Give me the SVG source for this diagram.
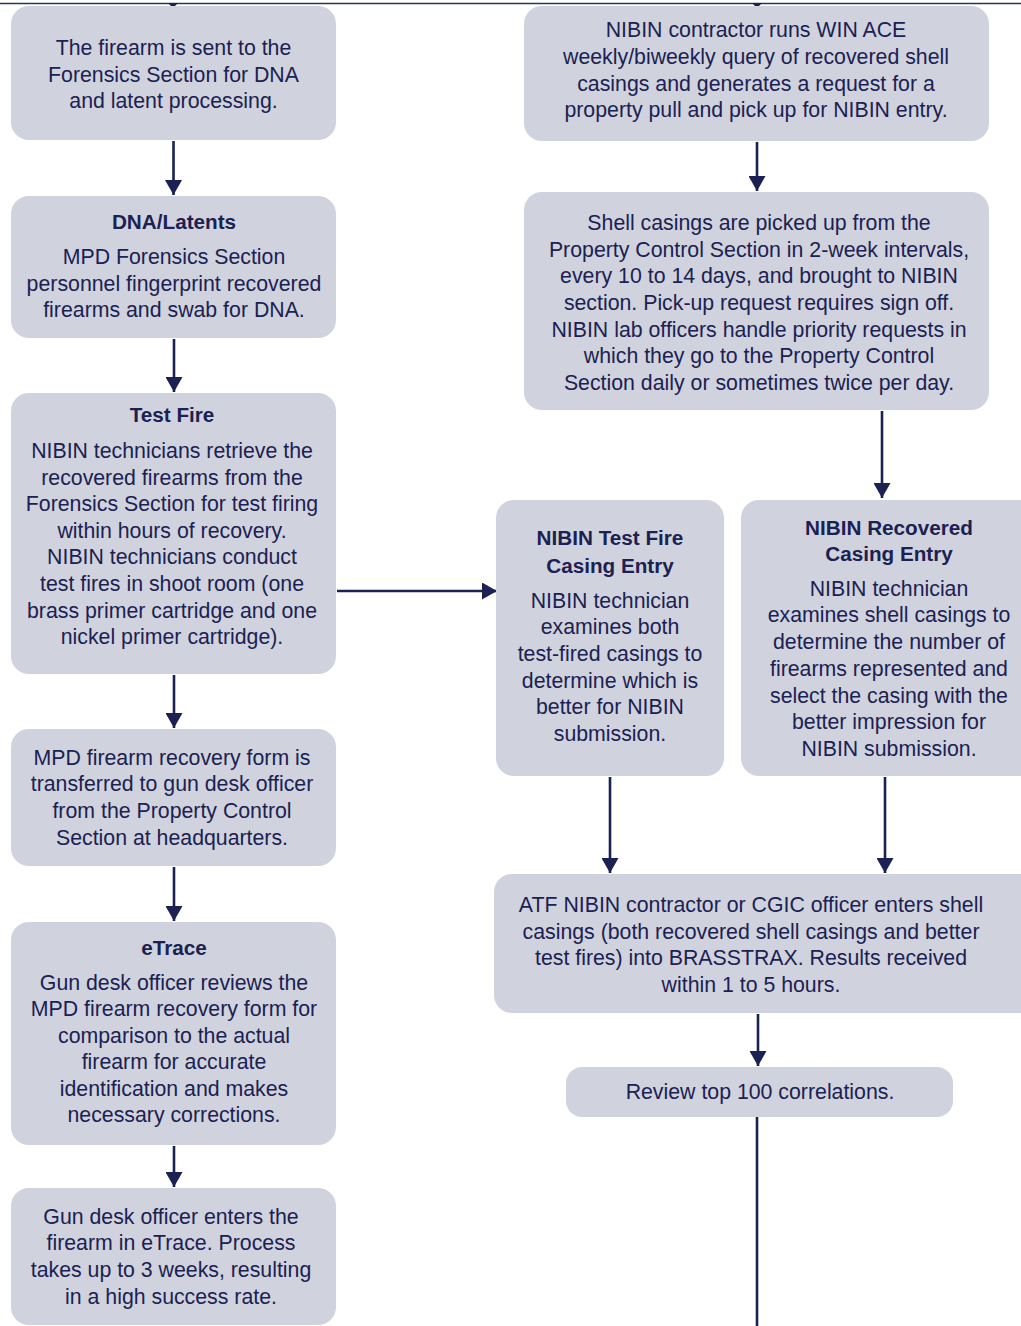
<svg xmlns="http://www.w3.org/2000/svg" width="1021" height="1326" viewBox="0 0 1021 1326">
<defs>
<style>
.box{fill:#D0D3DD;}
.t{font-family:"Liberation Sans",Arial,sans-serif;font-size:21.3px;fill:#1B2152;text-anchor:middle;}
.b{font-family:"Liberation Sans",Arial,sans-serif;font-size:20.7px;font-weight:bold;fill:#1B2152;text-anchor:middle;}
.c{stroke:#1B2152;stroke-width:2.6;fill:none;}
</style>
<marker id="ah" markerWidth="16" markerHeight="17" refX="15" refY="8.5" orient="auto" markerUnits="userSpaceOnUse">
<path d="M0,0 L15,8.5 L0,17 Z" fill="#1B2152"/>
</marker>
</defs>
<rect width="1021" height="1326" fill="#FFFFFF"/>

<g id="connectors">
<line x1="0" y1="3.5" x2="1021" y2="3.5" stroke="#2A3060" stroke-width="1.5"/>
<polygon points="168,3 178,3 173,8" fill="#1B2152"/>
<polygon points="752,3 762,3 757,8" fill="#1B2152"/>
<line class="c" x1="173.5" y1="141" x2="173.5" y2="195" marker-end="url(#ah)"/>
<line class="c" x1="174" y1="339" x2="174" y2="392" marker-end="url(#ah)"/>
<line class="c" x1="174" y1="675" x2="174" y2="728" marker-end="url(#ah)"/>
<line class="c" x1="174" y1="867" x2="174" y2="921" marker-end="url(#ah)"/>
<line class="c" x1="174" y1="1146" x2="174" y2="1187" marker-end="url(#ah)"/>
<line class="c" x1="757" y1="142" x2="757" y2="191" marker-end="url(#ah)"/>
<line class="c" x1="882" y1="411" x2="882" y2="498" marker-end="url(#ah)"/>
<line class="c" x1="337" y1="591" x2="497" y2="591" marker-end="url(#ah)"/>
<line class="c" x1="610" y1="777" x2="610" y2="873" marker-end="url(#ah)"/>
<line class="c" x1="885" y1="777" x2="885" y2="873" marker-end="url(#ah)"/>
<line class="c" x1="758" y1="1014" x2="758" y2="1066" marker-end="url(#ah)"/>
<line class="c" x1="757" y1="1117" x2="757" y2="1326"/>
</g>

<g id="n1">
<rect class="box" x="11" y="6" width="325" height="134" rx="18"/>
<text class="t" x="173.5" y="55">The firearm is sent to the</text>
<text class="t" x="173.5" y="82">Forensics Section for DNA</text>
<text class="t" x="173.5" y="108">and latent processing.</text>
</g>

<g id="n2">
<rect class="box" x="11" y="196" width="325" height="142" rx="18"/>
<text class="b" x="174" y="229">DNA/Latents</text>
<text class="t" x="174" y="264">MPD Forensics Section</text>
<text class="t" x="174" y="291">personnel fingerprint recovered</text>
<text class="t" x="174" y="317">firearms and swab for DNA.</text>
</g>

<g id="n3">
<rect class="box" x="11" y="393" width="325" height="281" rx="18"/>
<text class="b" x="172" y="422">Test Fire</text>
<text class="t" x="172" y="458">NIBIN technicians retrieve the</text>
<text class="t" x="172" y="485">recovered firearms from the</text>
<text class="t" x="172" y="511">Forensics Section for test firing</text>
<text class="t" x="172" y="538">within hours of recovery.</text>
<text class="t" x="172" y="564">NIBIN technicians conduct</text>
<text class="t" x="172" y="591">test fires in shoot room (one</text>
<text class="t" x="172" y="618">brass primer cartridge and one</text>
<text class="t" x="172" y="644">nickel primer cartridge).</text>
</g>

<g id="n4">
<rect class="box" x="11" y="729" width="325" height="137" rx="18"/>
<text class="t" x="172" y="765">MPD firearm recovery form is</text>
<text class="t" x="172" y="791">transferred to gun desk officer</text>
<text class="t" x="172" y="818">from the Property Control</text>
<text class="t" x="172" y="845">Section at headquarters.</text>
</g>

<g id="n5">
<rect class="box" x="11" y="922" width="325" height="223" rx="18"/>
<text class="b" x="174" y="955">eTrace</text>
<text class="t" x="174" y="990">Gun desk officer reviews the</text>
<text class="t" x="174" y="1016">MPD firearm recovery form for</text>
<text class="t" x="174" y="1043">comparison to the actual</text>
<text class="t" x="174" y="1069">firearm for accurate</text>
<text class="t" x="174" y="1096">identification and makes</text>
<text class="t" x="174" y="1122">necessary corrections.</text>
</g>

<g id="n6">
<rect class="box" x="11" y="1188" width="325" height="137" rx="18"/>
<text class="t" x="171" y="1224">Gun desk officer enters the</text>
<text class="t" x="171" y="1250">firearm in eTrace. Process</text>
<text class="t" x="171" y="1277">takes up to 3 weeks, resulting</text>
<text class="t" x="171" y="1304">in a high success rate.</text>
</g>

<g id="r1">
<rect class="box" x="524" y="6" width="465" height="135" rx="18"/>
<text class="t" x="756" y="37">NIBIN contractor runs WIN ACE</text>
<text class="t" x="756" y="64">weekly/biweekly query of recovered shell</text>
<text class="t" x="756" y="91">casings and generates a request for a</text>
<text class="t" x="756" y="117">property pull and pick up for NIBIN entry.</text>
</g>

<g id="r2">
<rect class="box" x="524" y="192" width="465" height="218" rx="18"/>
<text class="t" x="759" y="230">Shell casings are picked up from the</text>
<text class="t" x="759" y="257">Property Control Section in 2-week intervals,</text>
<text class="t" x="759" y="283">every 10 to 14 days, and brought to NIBIN</text>
<text class="t" x="759" y="310">section. Pick-up request requires sign off.</text>
<text class="t" x="759" y="337">NIBIN lab officers handle priority requests in</text>
<text class="t" x="759" y="363">which they go to the Property Control</text>
<text class="t" x="759" y="390">Section daily or sometimes twice per day.</text>
</g>

<g id="r3">
<rect class="box" x="496" y="500" width="228" height="276" rx="18"/>
<text class="b" x="610" y="545">NIBIN Test Fire</text>
<text class="b" x="610" y="573">Casing Entry</text>
<text class="t" x="610" y="608">NIBIN technician</text>
<text class="t" x="610" y="634">examines both</text>
<text class="t" x="610" y="661">test-fired casings to</text>
<text class="t" x="610" y="688">determine which is</text>
<text class="t" x="610" y="714">better for NIBIN</text>
<text class="t" x="610" y="741">submission.</text>
</g>

<g id="r4">
<rect class="box" x="741" y="500" width="300" height="276" rx="18"/>
<text class="b" x="889" y="535">NIBIN Recovered</text>
<text class="b" x="889" y="561">Casing Entry</text>
<text class="t" x="889" y="596">NIBIN technician</text>
<text class="t" x="889" y="622">examines shell casings to</text>
<text class="t" x="889" y="649">determine the number of</text>
<text class="t" x="889" y="676">firearms represented and</text>
<text class="t" x="889" y="703">select the casing with the</text>
<text class="t" x="889" y="729">better impression for</text>
<text class="t" x="889" y="756">NIBIN submission.</text>
</g>

<g id="r5">
<rect class="box" x="494" y="874" width="550" height="139" rx="18"/>
<text class="t" x="751" y="912">ATF NIBIN contractor or CGIC officer enters shell</text>
<text class="t" x="751" y="939">casings (both recovered shell casings and better</text>
<text class="t" x="751" y="965">test fires) into BRASSTRAX. Results received</text>
<text class="t" x="751" y="992">within 1 to 5 hours.</text>
</g>

<g id="r6">
<rect class="box" x="566" y="1067" width="387" height="50" rx="16"/>
<text class="t" x="760" y="1099">Review top 100 correlations.</text>
</g>
</svg>
